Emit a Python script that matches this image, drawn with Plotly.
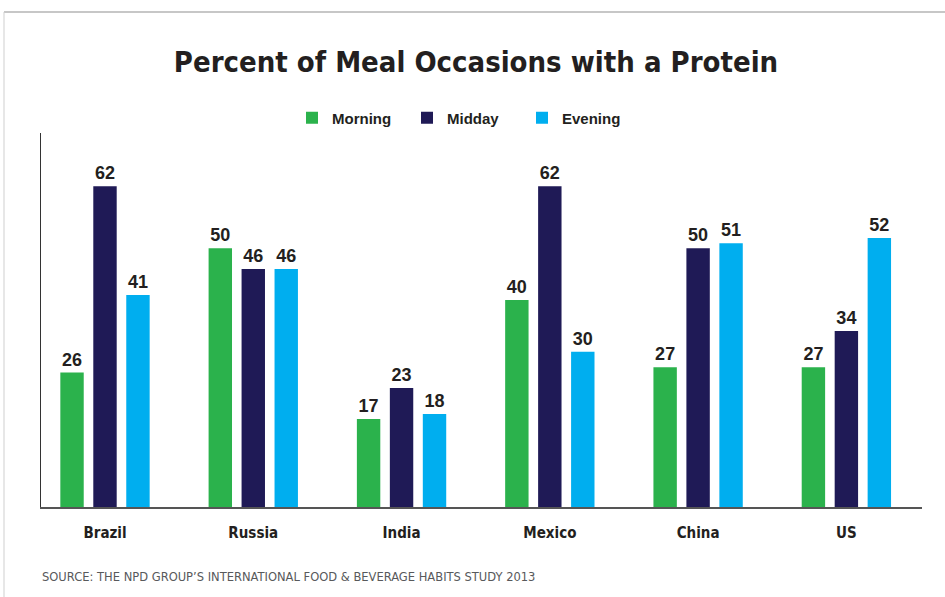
import plotly.graph_objects as go

countries = ["Brazil", "Russia", "India", "Mexico", "China", "US"]
morning = [26, 50, 17, 40, 27, 27]
midday = [62, 46, 23, 62, 50, 34]
evening = [41, 46, 18, 30, 51, 52]
series_names = ["Morning", "Midday", "Evening"]
colors = ["#2bb24c", "#1f1a56", "#00aeef"]

W, H = 945, 597
L, R, T, B = 41, 23, 133, 90
pw, ph = W - L - R, H - T - B

COND = "DejaVu Sans Condensed, Roboto Condensed, Liberation Sans Narrow, Arial Narrow, Liberation Sans, sans-serif"

def px(x):
    return (x - L) / pw

def py(y):
    return (H - B - y) / ph

fig = go.Figure()
for name, vals, col in zip(series_names, [morning, midday, evening], colors):
    fig.add_trace(go.Bar(
        x=countries, y=vals, name=name, marker_color=col, marker_line_width=0,
        text=[str(v) for v in vals], textposition="outside", cliponaxis=False,
        textfont=dict(family="Liberation Sans, Arial, sans-serif", size=18, color="#231f20"),
        texttemplate="<b>%{text}</b>",
    ))

fig.update_layout(
    width=W, height=H,
    margin=dict(l=L, r=R, t=T, b=B, pad=0),
    paper_bgcolor="white", plot_bgcolor="white",
    barmode="group", bargap=0.333, bargroupgap=0.29,
    showlegend=True,
    legend=dict(orientation="h", x=px(292), xanchor="left", y=py(118), yanchor="middle",
                font=dict(family="Liberation Sans, Arial, sans-serif", size=15, color="#231f20", weight="bold"),
                itemclick=False, traceorder="normal", entrywidth=70),
    title=dict(text="<b>Percent of Meal Occasions with a Protein</b>",
               x=476 / W, xanchor="center", y=1 - 62 / H, yanchor="middle",
               font=dict(family=COND, size=29, color="#231f20")),
    xaxis=dict(type="category", range=[-0.4316, 5.51], showgrid=False, zeroline=False,
               showline=True, linecolor="#555555", linewidth=2,
               ticks="outside", ticklen=11, tickcolor="rgba(0,0,0,0)",
               tickfont=dict(family=COND, size=15, color="#231f20", weight="bold")),
    yaxis=dict(range=[0, 72.3], showgrid=False, zeroline=False, showticklabels=False,
               showline=True, linecolor="#333333", linewidth=1.2, ticks=""),
    font=dict(family="Liberation Sans, Arial, sans-serif"),
)

fig.add_annotation(text="SOURCE: THE NPD GROUP\u2019S INTERNATIONAL FOOD &amp; BEVERAGE HABITS STUDY 2013",
                   xref="paper", yref="paper", x=px(40), y=py(576), xanchor="left", yanchor="middle",
                   showarrow=False,
                   font=dict(family=COND, size=12.8, color="#58595b"))

# card border
fig.add_shape(type="line", xref="paper", yref="paper", x0=px(4), x1=px(W + 5), y0=py(12), y1=py(12),
              line=dict(color="#b5b5b5", width=1.5))
fig.add_shape(type="line", xref="paper", yref="paper", x0=px(4), x1=px(4), y0=py(12), y1=py(H + 5),
              line=dict(color="#cfcfcf", width=1))

fig.write_html("out.html", config={"displayModeBar": False},
               post_script="document.body.style.margin='0';")
